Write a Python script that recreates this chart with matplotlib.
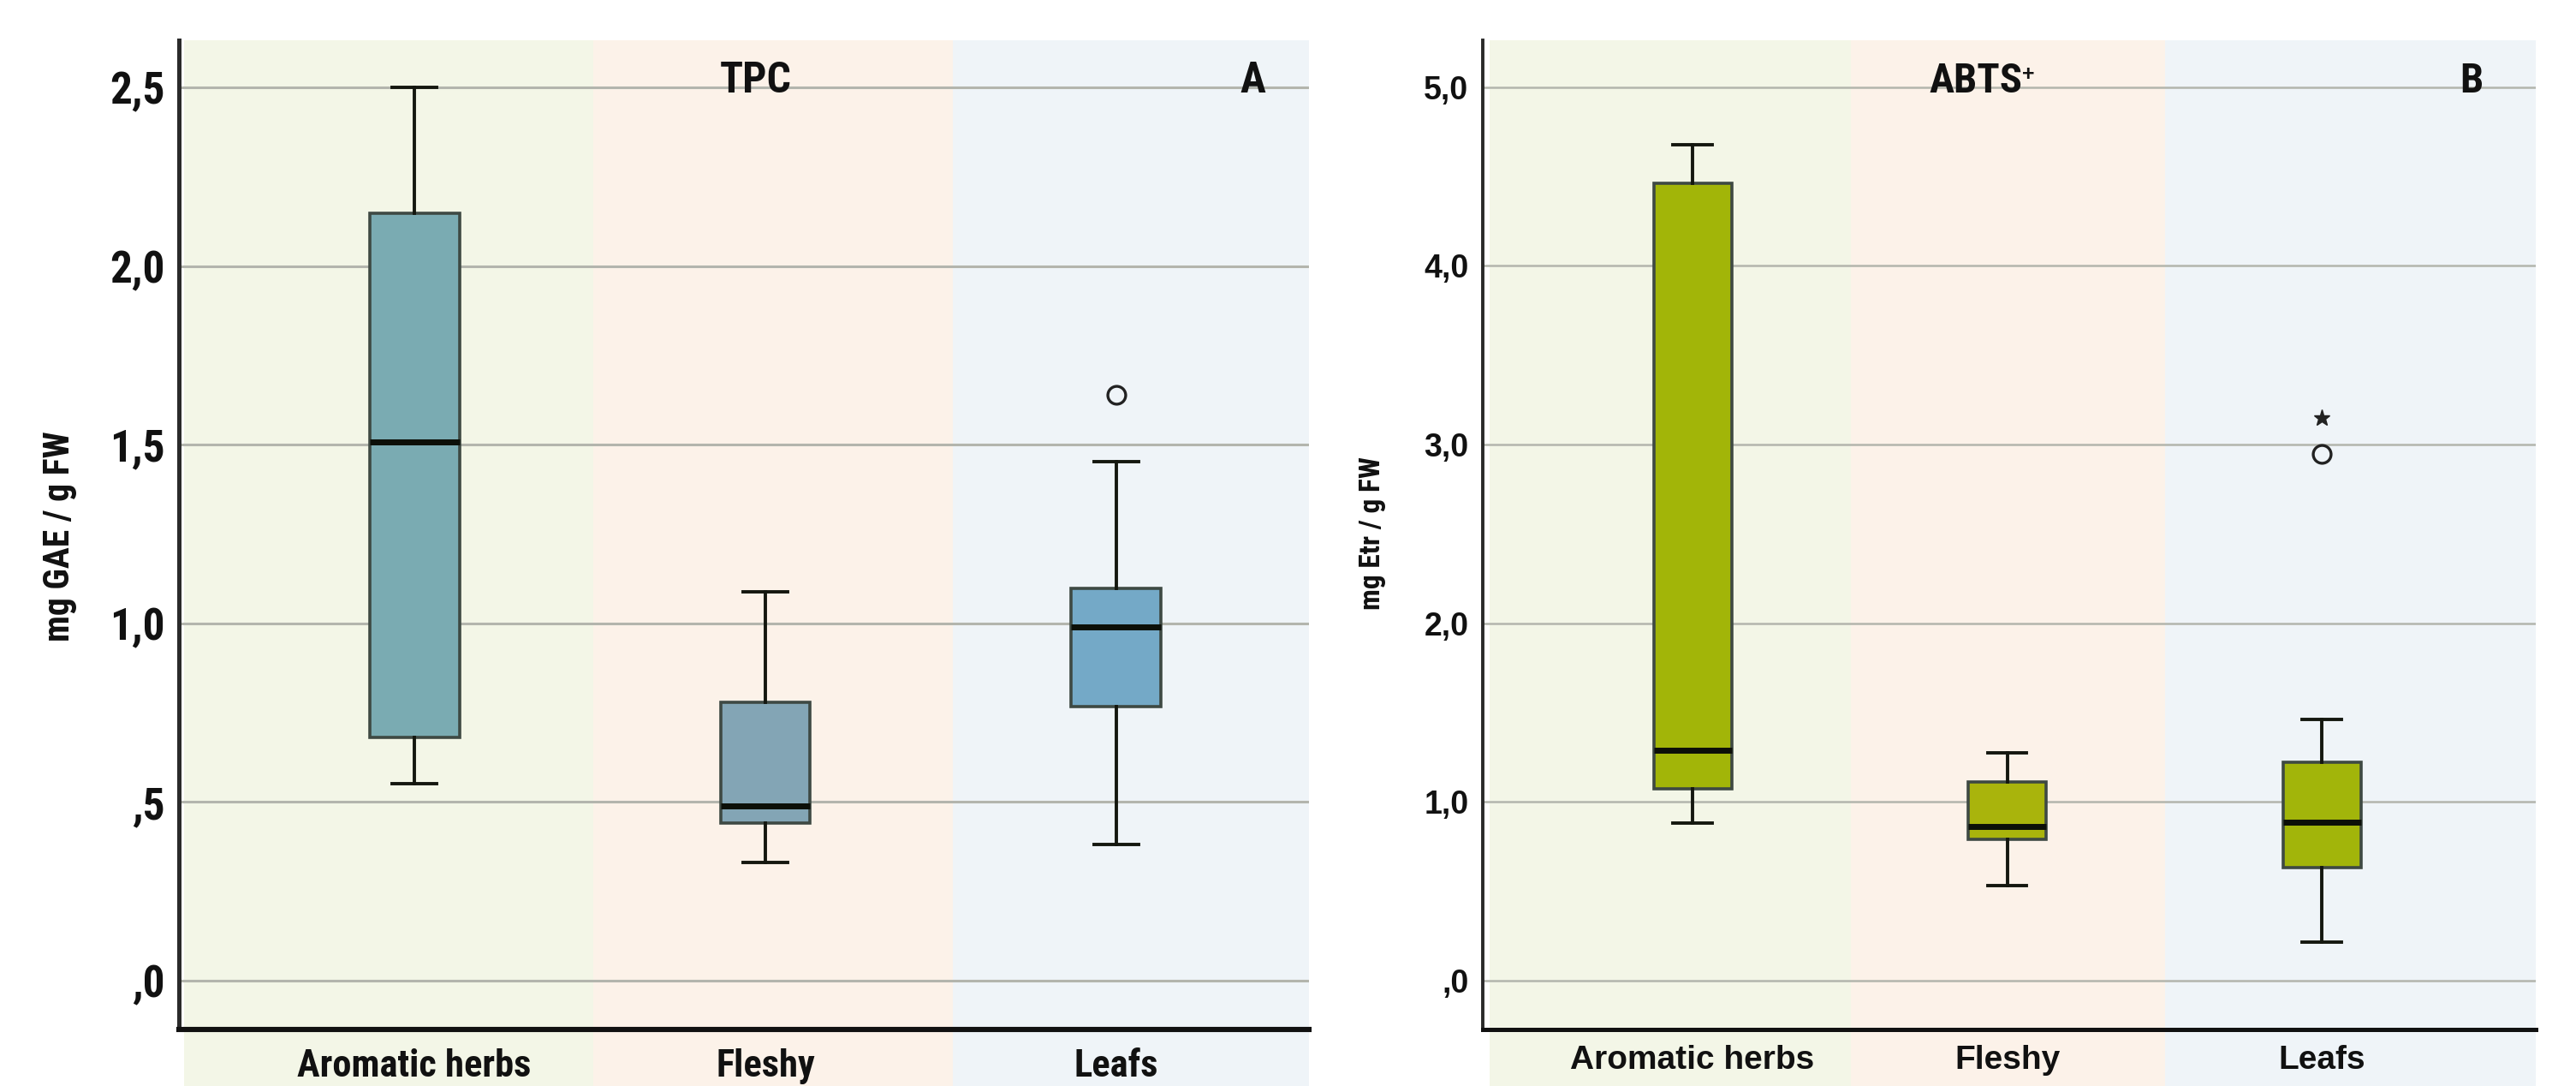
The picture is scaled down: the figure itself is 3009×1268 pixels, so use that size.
import matplotlib
matplotlib.use("Agg")
import matplotlib.pyplot as plt
from matplotlib import font_manager as fm
from matplotlib.patches import Rectangle
from matplotlib.transforms import blended_transform_factory

# ---------------- data ----------------
categories = ["Aromatic herbs", "Fleshy", "Leafs"]

# Panel A: TPC (mg GAE / g FW)
tpc_whislo = [0.552, 0.331, 0.382]
tpc_q1 = [0.680, 0.440, 0.767]
tpc_med = [1.508, 0.490, 0.990]
tpc_q3 = [2.147, 0.779, 1.099]
tpc_whishi = [2.500, 1.089, 1.452]
tpc_outliers = [[], [], [1.640]]
tpc_extremes = [[], [], []]
tpc_ticks = [0.0, 0.5, 1.0, 1.5, 2.0, 2.5]
tpc_ticklabels = [",0", ",5", "1,0", "1,5", "2,0", "2,5"]

# Panel B: ABTS+ (mg Etr / g FW)
abts_whislo = [0.882, 0.532, 0.214]
abts_q1 = [1.072, 0.789, 0.633]
abts_med = [1.290, 0.862, 0.886]
abts_q3 = [4.464, 1.111, 1.224]
abts_whishi = [4.678, 1.274, 1.461]
abts_outliers = [[], [], [2.949]]
abts_extremes = [[], [], [3.151]]
abts_ticks = [0.0, 1.0, 2.0, 3.0, 4.0, 5.0]
abts_ticklabels = [",0", "1,0", "2,0", "3,0", "4,0", "5,0"]

# ---------------- fonts ----------------
_entries = fm.fontManager.ttflist
_names = {f.name for f in _entries}
NARROW = None
NSTRETCH = "normal"
NSCALE = 1.0
for n in ["Liberation Sans Narrow", "Arial Narrow", "Roboto Condensed",
          "Open Sans Condensed", "Noto Sans Condensed", "DejaVu Sans Condensed"]:
    if n in _names:
        NARROW = [n, "DejaVu Sans"]
        break
if NARROW is None:
    cond = [f for f in _entries
            if str(f.stretch) in ("condensed", "semi-condensed", "extra-condensed")]
    pref = ["Noto Sans", "DejaVu Sans", "Open Sans", "Roboto", "Liberation Sans"]
    fams = [f.name for f in cond]
    for p in pref:
        if p in fams:
            NARROW = [p, "DejaVu Sans"]
            NSTRETCH = "condensed"
            break
if NARROW is None:
    NARROW = ["Liberation Sans", "DejaVu Sans"]
    NSCALE = 0.84
SANS = ["Liberation Sans", "DejaVu Sans"]


def nfont(size):
    return dict(family=NARROW, fontstretch=NSTRETCH, fontweight="bold",
                fontsize=size * NSCALE)


# ---------------- style ----------------
W, H = 3009, 1268
band_colors = ["#F3F6E7", "#FCF2E9", "#EFF4F8"]
boxA_colors = ["#7AABB2", "#83A5B5", "#74A9C7"]
boxB_colors = ["#A2B508", "#A9B40C", "#A2B50A"]

fig = plt.figure(figsize=(W / 100, H / 100), dpi=100)


def make_panel(rect, xlim, bands, ylim, stats_lo, q1, med, q3, hi, outl, extr,
               ticks, ticklabels, box_colors, width, fontkw_y, fontkw_x,
               xlab_pad, ytick_pad, spine_lw, grid_lw):
    ax = fig.add_axes(rect)
    ax.set_xlim(*xlim)
    ax.set_ylim(*ylim)
    ax.set_facecolor("white")
    trans = blended_transform_factory(ax.transData, ax.transAxes)
    for i in range(3):
        ax.add_patch(Rectangle((bands[i], -0.2), bands[i + 1] - bands[i], 1.2,
                               transform=trans, facecolor=band_colors[i],
                               edgecolor="none", zorder=0, clip_on=False))
    ax.set_yticks(ticks)
    ax.set_yticklabels(ticklabels)
    ax.yaxis.grid(True, color="#B3B5AD", linewidth=grid_lw, zorder=0.5)
    ax.set_axisbelow(True)

    stats = []
    for i in range(3):
        stats.append(dict(whislo=stats_lo[i], q1=q1[i], med=med[i], q3=q3[i],
                          whishi=hi[i], fliers=[]))
    bp = ax.bxp(stats, positions=[0, 1, 2], widths=width, patch_artist=True,
                showfliers=False,
                boxprops=dict(edgecolor="#3E4943", linewidth=2.6),
                medianprops=dict(color="#0C0F08", linewidth=5),
                whiskerprops=dict(color="#14170F", linewidth=2.8),
                capprops=dict(color="#14170F", linewidth=2.8),
                capwidths=width / 2, zorder=3)
    for patch, c in zip(bp["boxes"], box_colors):
        patch.set_facecolor(c)
    for i in range(3):
        if outl[i]:
            ax.plot([i] * len(outl[i]), outl[i], linestyle="none", marker="o",
                    markersize=15, markerfacecolor="none",
                    markeredgecolor="#222222", markeredgewidth=2.4, zorder=4)
        if extr[i]:
            ax.plot([i] * len(extr[i]), extr[i], linestyle="none", marker="*",
                    markersize=14, color="#222222", zorder=4)

    ax.set_xticks([0, 1, 2])
    ax.set_xticklabels(categories)
    for lab in ax.get_yticklabels():
        lab.update(fontkw_y)
        lab.set_color("#111111")
    for lab in ax.get_xticklabels():
        lab.update(fontkw_x)
        lab.set_color("#111111")
    ax.tick_params(axis="x", length=0, pad=xlab_pad)
    ax.tick_params(axis="y", length=0, pad=ytick_pad)
    for s in ["top", "right"]:
        ax.spines[s].set_visible(False)
    ax.spines["left"].set_linewidth(spine_lw)
    ax.spines["left"].set_color("#2A2A2A")
    ax.spines["bottom"].set_linewidth(spine_lw + 0.8)
    ax.spines["bottom"].set_color("#111111")
    ax.spines["left"].set_zorder(5)
    ax.spines["bottom"].set_zorder(5)
    return ax


# Panel A
axA = make_panel([209 / W, 66 / H, (1529 - 209) / W, (1202 - 47) / H],
                 (-0.671, 2.549), [-0.656, 0.51, 1.534, 2.549], (-0.1366, 2.632),
                 tpc_whislo, tpc_q1, tpc_med, tpc_q3, tpc_whishi,
                 tpc_outliers, tpc_extremes, tpc_ticks, tpc_ticklabels,
                 boxA_colors, 0.256, nfont(37), nfont(32), 16, 12, 3.6, 2.2)
axA.text(0.973, 2.517, "TPC", ha="center", va="center", color="#111111",
         zorder=6, **nfont(36))
axA.text(2.39, 2.517, "A", ha="center", va="center", color="#111111",
         zorder=6, **nfont(36))
fig.text(69 / W, 1 - 626 / H, "mg GAE / g FW", rotation=90, ha="center",
         va="center", color="#111111", **nfont(30))

# Panel B
sans26 = dict(family=SANS, fontweight="bold", fontsize=27)
sans28 = dict(family=SANS, fontweight="bold", fontsize=28)
axB = make_panel([1732 / W, 66 / H, (2962 - 1732) / W, (1202 - 47) / H],
                 (-0.667, 2.68), [-0.645, 0.503, 1.502, 2.68], (-0.273, 5.262),
                 abts_whislo, abts_q1, abts_med, abts_q3, abts_whishi,
                 abts_outliers, abts_extremes, abts_ticks, abts_ticklabels,
                 boxB_colors, 0.248, sans26, sans28, 13, 12, 2.8, 1.8)
tB = axB.text(0.90, 5.03, "ABTS", ha="center", va="center", color="#111111",
              zorder=6, **nfont(35))
axB.annotate("+", xy=(1.0, 0.95), xycoords=tB, ha="left", va="top",
             family=SANS, fontweight="bold", fontsize=18, color="#111111")
axB.text(2.476, 5.03, "B", ha="center", va="center", color="#111111",
         zorder=6, **nfont(35))
fig.text(1603 / W, 1 - 623 / H, "mg Etr / g FW", rotation=90, ha="center",
         va="center", color="#111111", **nfont(24))

fig.savefig("out.png", dpi=100, facecolor="white")
